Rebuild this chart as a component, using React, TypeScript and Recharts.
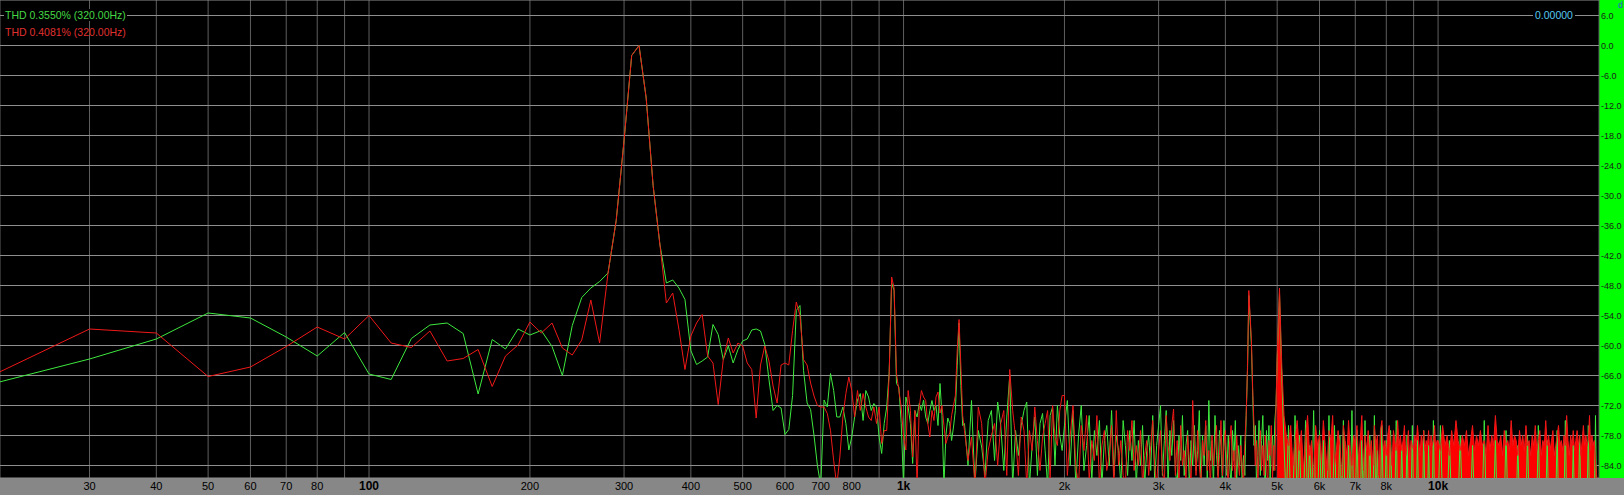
import { ComposedChart, Line, Area, XAxis, YAxis, CartesianGrid } from "recharts";

// spectrum bins, dB re full scale
// 20 Hz .. 690 Hz, 10 Hz bins
const LOW_START = 20;
const LOW_STEP = 10;
const greenLow = [
  -67.5, -62.7, -58.7, -53.5, -54.5, -58.3, -62.1, -57.4, -65.7, -66.8,
  -58.6, -55.9, -55.5, -57.6, -69.7, -58.8, -60.7, -56.7, -57.9, -57.0,
  -60.2, -66.0, -56.0, -50.4, -48.5, -47.2, -45.5, -35, -19, -2,
  0, -10.5, -28, -39.7, -47.5, -46.9, -48.5, -50.8, -61, -63.8,
  -63.1, -62.3, -55.8, -57.8, -62.8, -60.1, -63.5, -60.8, -59.1, -58.7,
  -56.9, -56.7, -57.1, -59.8, -66.8, -73, -72, -72.5, -77.8, -76.8,
  -70, -53, -52, -65, -71.5, -72.8, -78, -84,
];
const redLow = [
  -65.7, -56.7, -57.5, -66.2, -64.3, -60.2, -56.3, -58.7, -54.0, -59.5,
  -60.4, -57.1, -63.1, -62.6, -60.8, -68.2, -62.1, -59.9, -55.3, -57.5,
  -55.5, -60.5, -61.9, -58.9, -50.9, -59.5, -45.5, -35, -19, -2,
  0, -10.5, -28, -39.7, -51.5, -49.5, -56.8, -64.8, -58.1, -55.5,
  -53.8, -62.1, -63.5, -71.8, -62.8, -58.5, -61.5, -59.5, -60.1, -63.5,
  -64.8, -74.5, -63.9, -60.1, -63.1, -68.1, -71.5, -63.9, -63.5, -63.9,
  -57, -51.3, -54, -62.8, -63.9, -67.5, -70.1, -72,
];

// 700 Hz .. 1290 Hz, 10 Hz bins
const MID_START = 700;
const MID_STEP = 10;
const greenMid = [
  -88, -70.9, -72.3, -65.6, -69, -74.3, -74.3, -72.3, -75.6, -80.9,
  -78.3, -74.3, -70.9, -69.6, -75, -69, -70.3, -73, -71.6, -72.3,
  -78.3, -81.6, -75.6, -72.3, -65.3, -47.5, -49, -67.6, -68.3, -75.6,
  -88, -70.3, -72.3, -75.6, -83.6, -73, -74.3, -71.6, -73, -70.9,
  -74.3, -75.6, -73, -71, -73, -72, -76, -67.6, -74, -88,
  -78, -74.5, -75.6, -79, -76.3, -73, -64, -55.5, -68, -76,
];
const redMid = [
  -72.3, -72.3, -73.6, -77, -83, -88, -82.3, -74.3, -69.6, -66.3,
  -69, -74.3, -69, -73, -69.6, -72.3, -74.3, -75, -72.3, -75.6,
  -72.3, -79.6, -77, -77, -65.6, -46.3, -48.5, -65.6, -69, -72.3,
  -78.3, -80.9, -69, -73, -82.3, -73, -88, -72.3, -69, -70.3,
  -71, -75.6, -78.3, -73, -75, -70.3, -69.3, -73.5, -72, -76,
  -79.6, -78.3, -77.5, -74, -72, -70, -61, -54.8, -64, -74,
];

// 1.3 kHz .. 1.98 kHz, thinned to 20 Hz
const UPPER_START = 1300;
const UPPER_STEP = 20;
const greenUpper = [
  -75.6, -84, -71, -88, -77, -80.3, -86, -75, -73, -83,
  -71.3, -76, -85, -74.3, -66, -88, -77, -82, -76, -73,
  -71.3, -88, -80, -74.3, -86, -75.6, -73.6, -81, -88, -74,
  -72.3, -84, -72, -78, -81,
];
const redUpper = [
  -77, -83, -78.3, -88, -72.3, -75.6, -88, -80.9, -78, -75.6,
  -84, -75.6, -73, -86, -64.8, -73, -78.3, -86, -74.3, -77,
  -88, -77, -81, -72.3, -79, -85, -78.3, -75.6, -73, -87,
  -72, -78.3, -80, -73, -70,
];

// 2 kHz .. 4.975 kHz, thinned to 25 Hz
const HIGH_START = 2000;
const HIGH_STEP = 25;
const greenHigh = [
  -76, -71, -84, -73, -88, -78, -72, -85, -80, -74,
  -87, -77, -82, -75, -88, -79, -76, -84, -73, -86,
  -78, -81, -88, -75, -80, -86, -77, -83, -75, -88,
  -79, -84, -76, -88, -81, -78, -85, -74, -87, -80,
  -76, -72, -86, -79, -73, -88, -77, -82, -75, -85,
  -88, -78, -83, -74, -86, -80, -77, -88, -79, -84,
  -76, -85, -81, -73, -88, -78, -84, -76, -87, -71,
  -83, -79, -88, -74, -82, -86, -77, -80, -88, -75,
  -81, -86, -78, -84, -88, -77, -83, -75, -87, -80,
  -84, -78, -88, -82, -86, -74, -65, -50, -55, -60,
  -70, -80, -76, -88, -82, -75, -86, -79, -74, -84,
  -88, -77, -83, -76, -87, -80, -78, -85, -75, -72,
];
const redHigh = [
  -70, -86, -78, -72, -84, -88, -76, -81, -74, -87,
  -79, -83, -74, -88, -80, -77, -85, -82, -76, -88,
  -73, -84, -79, -86, -88, -77, -81, -75, -85, -80,
  -84, -77, -88, -82, -79, -86, -80, -75, -84, -88,
  -81, -77, -85, -88, -74, -80, -83, -76, -72.7, -86,
  -79, -88, -76, -84, -81, -87, -78, -83, -88, -71,
  -80, -86, -77, -84, -88, -79, -82, -75, -85, -81,
  -88, -78, -84, -80, -76, -87, -82, -75, -86, -80,
  -77, -84, -88, -79, -76, -85, -81, -88, -78, -83,
  -86, -80, -84, -88, -79, -74, -64, -49, -54, -59,
  -69, -76, -84, -79, -88, -81, -77, -85, -80, -86,
  -78, -84, -88, -79, -82, -76, -87, -80, -85, -72,
];

// 5 kHz .. 9.95 kHz, thinned to 50 Hz (-92 = under the floor)
const TOP_START = 5000;
const TOP_STEP = 50;
const greenTop = [
  -63, -49.5, -66, -80, -92, -76, -92, -92, -74, -92,
  -78, -92, -92, -75, -92, -80, -92, -73, -92, -92,
  -77, -92, -79, -92, -92, -74, -92, -92, -76, -92,
  -92, -78, -92, -75, -92, -92, -80, -92, -73, -92,
  -92, -77, -92, -92, -79, -92, -75, -92, -92, -78,
  -92, -92, -74, -92, -81, -92, -92, -76, -92, -92,
  -79, -92, -92, -77, -92, -92, -92, -75, -92, -92,
  -92, -80, -92, -92, -92, -78, -92, -92, -92, -76,
  -92, -92, -92, -79, -92, -92, -92, -92, -77, -92,
  -92, -92, -80, -92, -92, -92, -75, -92, -92, -92,
];
const redTop = [
  -62, -48.5, -64, -74, -78, -80, -76, -84, -79, -75,
  -81, -77, -85, -78, -74, -82, -79, -86, -76, -80,
  -78, -83, -75, -80, -85, -77, -79, -74, -84, -81,
  -77, -80, -86, -76, -79, -82, -75, -81, -84, -78,
  -80, -76, -83, -79, -74, -85, -78, -81, -77, -82,
  -79, -84, -76, -80, -78, -86, -77, -75, -81, -79,
  -82, -78, -76, -80, -84, -77, -79, -81, -75, -80,
  -78, -81, -79, -76, -82, -80, -77, -83, -79, -80,
  -81, -78, -80, -76, -79, -82, -78, -80, -77, -81,
  -79, -80, -77, -82, -78, -80, -79, -76, -81, -79,
];

// 10 kHz .. 19.9 kHz, thinned to 100 Hz
const AIR_START = 10000;
const AIR_STEP = 100;
const greenAir = [
  -92, -76, -92, -92, -92, -79, -92, -92, -92, -92,
  -78, -92, -92, -92, -92, -92, -80, -92, -92, -92,
  -92, -92, -75, -92, -92, -92, -92, -92, -79, -92,
  -92, -92, -92, -92, -77, -92, -92, -92, -92, -92,
  -92, -80, -92, -92, -92, -92, -92, -78, -92, -92,
  -92, -92, -92, -92, -76, -92, -92, -92, -92, -92,
  -79, -92, -92, -92, -92, -92, -92, -77, -92, -92,
  -92, -92, -92, -75, -92, -92, -92, -92, -92, -80,
  -92, -92, -92, -92, -78, -92, -92, -92, -92, -92,
  -92, -76, -92, -92, -92, -92, -92, -74, -92, -92,
];
const redAir = [
  -79, -81, -76, -80, -78, -82, -77, -80, -75, -79,
  -81, -78, -80, -77, -82, -79, -76, -81, -78, -80,
  -77, -80, -79, -82, -76, -81, -78, -80, -74, -79,
  -80, -78, -82, -77, -80, -79, -81, -75, -80, -78,
  -79, -82, -77, -80, -78, -81, -76, -80, -79, -82,
  -78, -80, -76, -81, -79, -77, -82, -79, -80, -75,
  -80, -78, -81, -79, -77, -82, -80, -78, -76, -80,
  -79, -81, -78, -80, -74, -79, -82, -78, -80, -77,
  -81, -79, -77, -80, -78, -82, -79, -76, -80, -78,
  -80, -79, -74, -81, -78, -80, -79, -83, -86, -90,
];

const freqTicks = [
  30, 40, 50, 60, 70, 80, 90, 100, 200, 300, 400, 500, 600, 700, 800, 900,
  1000, 2000, 3000, 4000, 5000, 6000, 7000, 8000, 9000, 10000,
];
const unlabelled = [90, 900, 9000];
const decades = [100, 1000, 10000];
const levelTicks = [6, 0, -6, -12, -18, -24, -30, -36, -42, -48, -54, -60, -66, -72, -78, -84];

const legendLabels = ["THD 0.3550% (320.00Hz)", "THD 0.4081% (320.00Hz)"];
const readout = "0.00000";

const GREEN = "#3ee83e";
const RED = "#f01818";
const FONT = "'Liberation Sans', Arial, sans-serif";

type Pt = { f: number; db: number };
const bins = (start: number, step: number, values: number[]): Pt[] =>
  values.map((db, i) => ({ f: start + i * step, db }));

const greenData = [
  ...bins(LOW_START, LOW_STEP, greenLow),
  ...bins(MID_START, MID_STEP, greenMid),
  ...bins(UPPER_START, UPPER_STEP, greenUpper),
  ...bins(HIGH_START, HIGH_STEP, greenHigh),
  ...bins(TOP_START, TOP_STEP, greenTop),
  ...bins(AIR_START, AIR_STEP, greenAir),
];
const redData = [
  ...bins(LOW_START, LOW_STEP, redLow),
  ...bins(MID_START, MID_STEP, redMid),
  ...bins(UPPER_START, UPPER_STEP, redUpper),
  ...bins(HIGH_START, HIGH_STEP, redHigh),
  ...bins(TOP_START, TOP_STEP, redTop),
  ...bins(AIR_START, AIR_STEP, redAir),
];
// above 5k the red trace is so dense it reads as a solid block
const redFill = [
  ...bins(TOP_START, TOP_STEP, redTop),
  ...bins(AIR_START, AIR_STEP, redAir),
];

const freqLabel = (v: number) => (v >= 1000 ? `${v / 1000}k` : `${v}`);

const FreqTick = (props: any) => {
  const { x, y, payload } = props;
  const v = payload.value as number;
  if (unlabelled.includes(v)) return <g />;
  const bold = decades.includes(v);
  return (
    <text
      x={x}
      y={y + 12}
      textAnchor="middle"
      fill="#000"
      fontFamily={FONT}
      fontSize={bold ? 12 : 11}
      fontWeight={bold ? 700 : 400}
    >
      {freqLabel(v)}
    </text>
  );
};

export default function App() {
  return (
    <div
      style={{
        position: "fixed",
        left: 0,
        top: 0,
        width: 1624,
        height: 495,
        overflow: "hidden",
        background: "#000",
      }}
    >
      <div style={{ position: "absolute", left: 1599, top: 0, width: 25, height: 478, background: "#00ff00" }} />
      <div style={{ position: "absolute", left: 0, top: 478, width: 1624, height: 17, background: "#878787" }} />
      <div style={{ position: "absolute", left: 0, top: 0 }}>
        <ComposedChart width={1624} height={495} margin={{ top: 0, right: 0, bottom: 0, left: 0 }}>
          <CartesianGrid horizontal={false} stroke="#5f5f5f" />
          <CartesianGrid vertical={false} stroke="#8e8e8e" />
          <XAxis
            type="number"
            dataKey="f"
            scale="log"
            domain={[20.4, 20000]}
            ticks={freqTicks}
            interval={0}
            allowDataOverflow
            height={17}
            axisLine={false}
            tickLine={false}
            tickSize={0}
            tickMargin={0}
            tick={FreqTick}
          />
          <YAxis
            type="number"
            orientation="right"
            domain={[-86.5, 9.1]}
            ticks={levelTicks}
            interval={0}
            allowDataOverflow
            width={25}
            axisLine={false}
            tickLine={false}
            tickSize={0}
            tickMargin={2}
            tickFormatter={(v: number) => v.toFixed(1)}
            tick={{ fill: "#1c1c1c", fontSize: 9, fontFamily: FONT }}
          />
          <Area
            data={redFill}
            dataKey="db"
            type="linear"
            baseValue="dataMin"
            stroke="none"
            fill="#ff0000"
            fillOpacity={1}
            dot={false}
            activeDot={false}
            isAnimationActive={false}
          />
          <Line
            data={greenData}
            dataKey="db"
            type="linear"
            stroke={GREEN}
            strokeWidth={1}
            dot={false}
            activeDot={false}
            isAnimationActive={false}
          />
          <Line
            data={redData}
            dataKey="db"
            type="linear"
            stroke={RED}
            strokeWidth={1}
            dot={false}
            activeDot={false}
            isAnimationActive={false}
          />
        </ComposedChart>
      </div>
      <div
        style={{
          position: "absolute",
          left: 4,
          top: 9,
          padding: "0 1px",
          background: "#000",
          color: "#45d845",
          font: `10.5px ${FONT}`,
          lineHeight: "12px",
        }}
      >
        {legendLabels[0]}
      </div>
      <div
        style={{
          position: "absolute",
          left: 4,
          top: 26,
          padding: "0 1px",
          color: "#e03030",
          font: `10.5px ${FONT}`,
          lineHeight: "12px",
        }}
      >
        {legendLabels[1]}
      </div>
      <div
        style={{
          position: "absolute",
          left: 1533,
          top: 9,
          padding: "0 2px",
          background: "#000",
          color: "#55c8ee",
          font: `10.5px ${FONT}`,
          lineHeight: "12px",
        }}
      >
        {readout}
      </div>
      <div
        style={{
          position: "absolute",
          left: 1618,
          top: 0,
          color: "#2a56d0",
          font: `9px ${FONT}`,
          lineHeight: "10px",
        }}
      >
        d
      </div>
    </div>
  );
}
